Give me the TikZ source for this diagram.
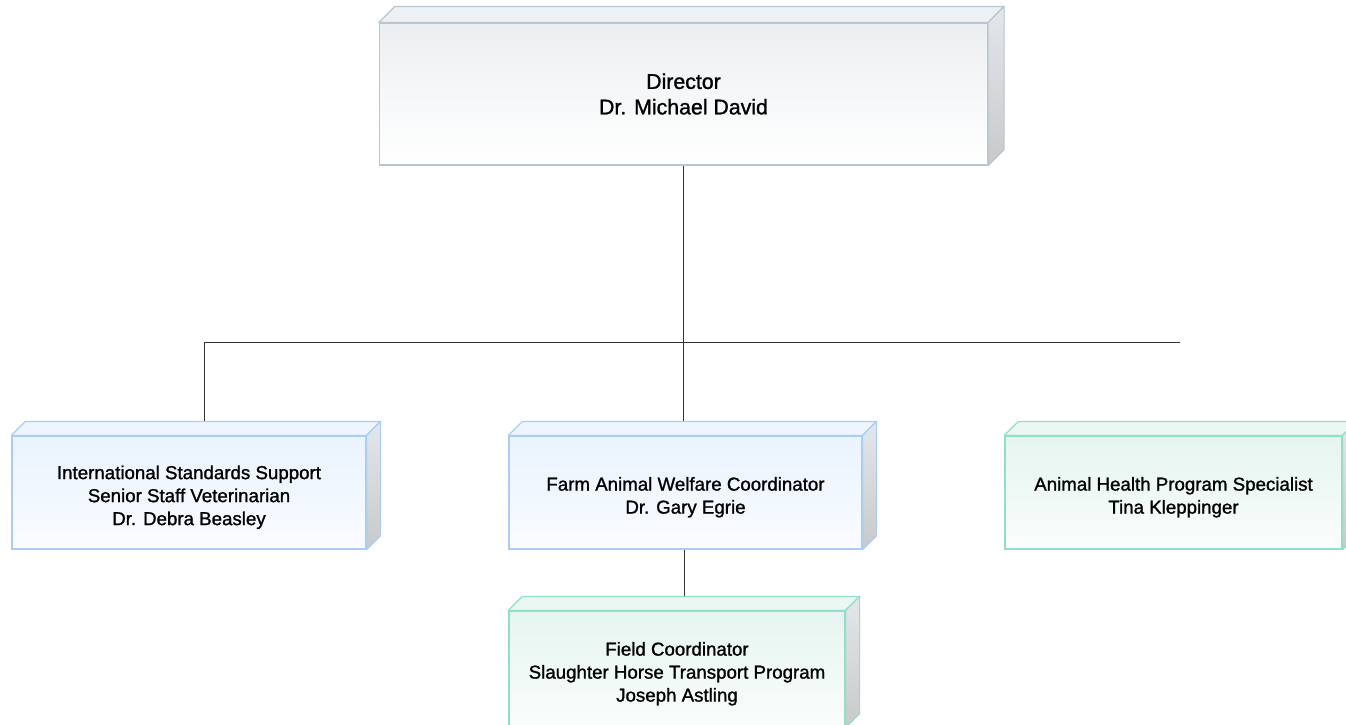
\documentclass[tikz,border=0pt]{standalone}
\usepackage{fontspec}
\setmainfont{Liberation Sans}[FakeBold=1.2]
\usetikzlibrary{calc}
\definecolor{dirline}{HTML}{B9C5CF}
\definecolor{dirtop}{HTML}{ECEFF1}
\definecolor{dirlid}{HTML}{EEF1F3}
\definecolor{blueline}{HTML}{A9CDF7}
\definecolor{bluetop}{HTML}{EAF3FE}
\definecolor{bluebot}{HTML}{FAFCFF}
\definecolor{bluelid}{HTML}{EEF5FE}
\definecolor{greenline}{HTML}{91DFC8}
\definecolor{greentop}{HTML}{E5F5EF}
\definecolor{greenbot}{HTML}{FAFDFC}
\definecolor{greenlid}{HTML}{EAF7F3}
\definecolor{sidetop}{HTML}{E3E7EB}
\definecolor{sidebot}{HTML}{C9C9C9}
\definecolor{wirecol}{HTML}{333333}
% card text, set a little below the middle of the face
\newcommand\cardtext[1]{\raisebox{-5pt}[\height][\depth]{\begin{tabular}{@{}c@{}}#1\end{tabular}}}
\tikzset{
  card/.style={draw, line width=1.2pt, align=center, inner sep=0pt,
    minimum height=113pt, font=\fontsize{18.7}{23}\selectfont},
  grey card/.style={card, draw=dirline, top color=dirtop, bottom color=white,
    font=\fontsize{21.3}{25.5}\selectfont},
  blue card/.style={card, draw=blueline, top color=bluetop, bottom color=bluebot},
  green card/.style={card, draw=greenline, top color=greentop, bottom color=greenbot},
  wire/.style={draw=wirecol, line width=0.9pt},
}

\begin{document}
\begin{tikzpicture}[x=1pt,y=-1pt]
  \useasboundingbox (0,0) rectangle (1346,724);

  % front faces
  \node[grey card, minimum width=608pt, minimum height=142pt] (director) at (683.5,94)
    {Director\\Dr. Michael David};
  \node[blue card, minimum width=354pt] (intl) at (189,492.5)
    {\cardtext{International Standards Support\\Senior Staff Veterinarian\\Dr. Debra Beasley}};
  \node[blue card, minimum width=353pt] (farm) at (685.5,492.5)
    {\cardtext{Farm Animal Welfare Coordinator\\Dr. Gary Egrie}};
  \node[green card, minimum width=337pt] (health) at (1173.5,492.5)
    {\cardtext{Animal Health Program Specialist\\Tina Kleppinger}};
  \node[green card, minimum width=336pt, minimum height=116pt] (field) at (677,669)
    {\cardtext{Field Coordinator\\Slaughter Horse Transport Program\\Joseph Astling}};

  % lid and side of every box
  \foreach \n/\d/\ln/\lid in {director/16/dirline/dirlid, intl/14/blueline/bluelid,
      farm/14/blueline/bluelid, health/14/greenline/greenlid, field/14/greenline/greenlid}{
    \filldraw[line width=1.2pt, draw=\ln, fill=\lid, line join=round]
      (\n.north west) -- ++(\d,-\d) -- ($(\n.north east)+(\d,-\d)$) -- (\n.north east) -- cycle;
    \shadedraw[line width=1.2pt, draw=\ln, top color=sidetop, bottom color=sidebot, line join=round]
      (\n.north east) -- ++(\d,-\d) -- ($(\n.south east)+(\d,-\d)$) -- (\n.south east) -- cycle;
    \coordinate (\n-back) at ($(\n.north)+(\d/2,-\d)$);
  }

  % connectors
  \coordinate (busL) at (204,342);
  \coordinate (busR) at (1180,342);
  \draw[wire] (director.south) -- (director.south |- busL);
  \draw[wire] (busL) -- (busR);
  \draw[wire] (busL) -- (busL |- intl-back);
  \draw[wire] (director.south |- busL) -- (director.south |- farm-back);
  \draw[wire] (field-back |- farm.south) -- (field-back);
\end{tikzpicture}
\end{document}
